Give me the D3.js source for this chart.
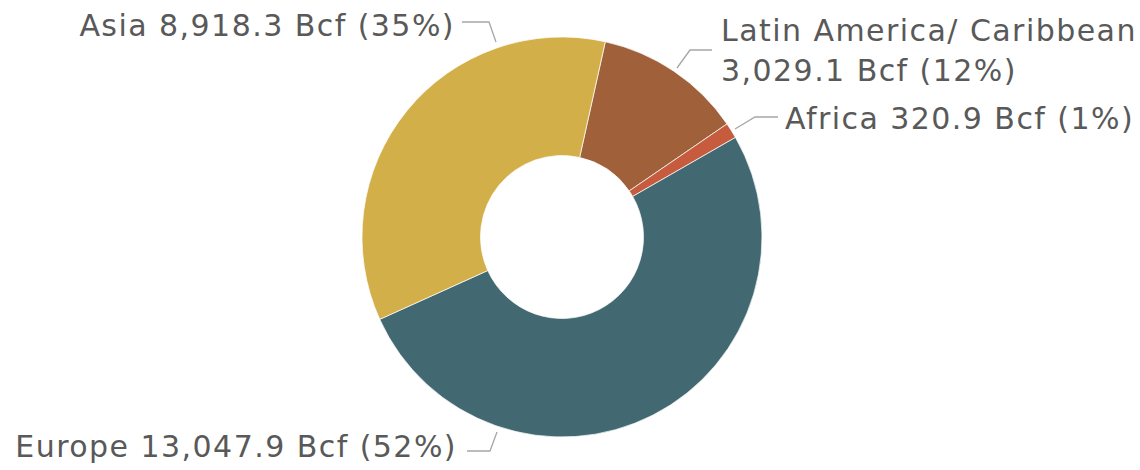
<!DOCTYPE html>
<html>
<head>
<meta charset="utf-8">
<script src="https://cdn.jsdelivr.net/npm/d3@7"></script>
<style>
  html, body { margin: 0; padding: 0; background: #fff; }
  svg { display: block; }
  .label { font-family: "DejaVu Sans", Verdana, sans-serif; font-size: 30px; letter-spacing: 1.45px; fill: #595959; }
  .leader { fill: none; stroke: #a6a6a6; stroke-width: 1.3; }
</style>
</head>
<body>
<svg width="1140" height="470"></svg>
<script>
// data, in drawing order (clockwise)
const regions = ["Latin America/ Caribbean", "Africa", "Europe", "Asia"];
const volumes = [3029.1, 320.9, 13047.9, 8918.3];
const colors = ["#a0613a", "#c65b3d", "#426971", "#d3af4a"];

// label placement (annotation layout only)
const labelLayout = [
  { lines: 2, x: 721, y: 30, anchor: "start", leader: [[712, 50], [690, 50], [677, 68]] },
  { lines: 1, x: 785, y: 118, anchor: "start", leader: [[778, 117], [755, 117], [735, 129]] },
  { lines: 1, x: 457, y: 446, anchor: "end", leader: [[467, 451], [490, 451], [497, 432]] },
  { lines: 1, x: 455, y: 25, anchor: "end", leader: [[462, 22], [489, 22], [496, 42]] }
];

const cx = 562, cy = 237, outerR = 200, innerR = 81.5;
const startAngle = 12.5 * Math.PI / 180;

const svg = d3.select("svg");
const g = svg.append("g").attr("transform", `translate(${cx},${cy})`);

const total = d3.sum(volumes);
const pie = d3.pie().sort(null).value(d => d)
  .startAngle(startAngle).endAngle(startAngle + 2 * Math.PI);
const arc = d3.arc().innerRadius(innerR).outerRadius(outerR);

g.selectAll("path.slice")
  .data(pie(volumes))
  .enter().append("path")
  .attr("class", "slice")
  .attr("d", arc)
  .attr("fill", (d, i) => colors[i])
  .attr("stroke", "#fff")
  .attr("stroke-width", 0.7);

const fmt = d3.format(",.1f");
const pct = v => Math.round(v / total * 100) + "%";

regions.forEach((name, i) => {
  const L = labelLayout[i];
  svg.append("path")
    .attr("class", "leader")
    .attr("d", d3.line()(L.leader));

  const valueText = fmt(volumes[i]) + " Bcf (" + pct(volumes[i]) + ")";
  const t = svg.append("text")
    .attr("class", "label")
    .attr("text-anchor", L.anchor)
    .attr("dominant-baseline", "central");
  if (L.lines === 2) {
    t.append("tspan").attr("x", L.x).attr("y", L.y).text(name);
    t.append("tspan").attr("x", L.x).attr("y", L.y + 40).text(valueText);
  } else {
    t.attr("x", L.x).attr("y", L.y).text(name + " " + valueText);
  }
});
</script>
</body>
</html>
